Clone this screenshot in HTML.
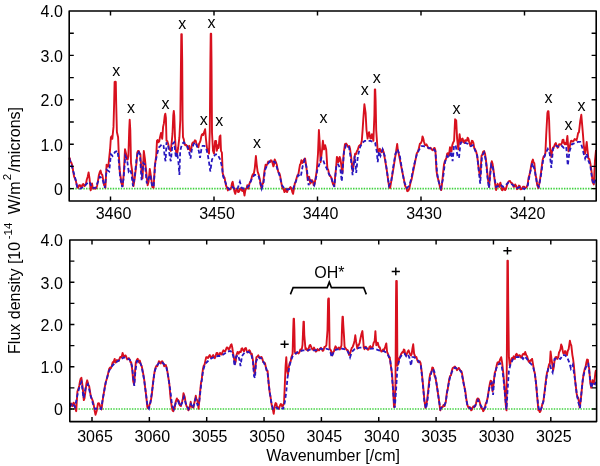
<!DOCTYPE html><html><head><meta charset="utf-8"><style>html,body{margin:0;padding:0;background:#fff;}svg{display:block;will-change:transform;}text{font-family:"Liberation Sans",sans-serif;font-size:16px;fill:#000;}</style></head><body>
<svg width="600" height="466" viewBox="0 0 600 466">
<rect width="600" height="466" fill="#fff"/>
<line x1="70" y1="188.6" x2="596" y2="188.6" stroke="#3fd23f" stroke-width="1.6" stroke-dasharray="1.45 1.22"/>
<line x1="70.5" y1="409" x2="596" y2="409" stroke="#3fd23f" stroke-width="1.6" stroke-dasharray="1.45 1.22"/>
<polyline points="69.5,157.5 69.7,158.6 70.6,161.7 71.4,162.9 72.3,165.5 73.2,171.5 74.1,176.6 74.9,178.4 75.8,180.6 76.6,184.4 77.3,187.1 78.0,187.8 79.2,185.2 80.1,185.1 80.9,187.0 81.8,186.8 82.6,184.4 83.4,184.0 84.3,186.1 85.2,185.5 86.0,183.5 86.8,179.5 87.7,176.7 88.6,172.4 89.5,178.4 90.7,190.4 92.0,183.5 92.7,187.4 93.4,188.7 94.5,187.7 95.5,188.7 96.3,188.2 97.2,185.2 98.1,180.1 98.9,174.9 99.8,171.9 100.6,170.6 101.4,174.0 102.3,174.9 103.2,180.1 104.0,185.2 104.7,185.3 105.4,187.8 106.6,164.6 107.4,166.6 108.3,166.4 109.2,157.8 110.1,149.2 110.9,137.2 111.6,136.2 112.3,138.9 113.5,126.9 114.1,104.6 114.6,82.0 115.0,81.7 115.5,81.7 115.8,82.0 116.2,104.0 116.6,120.0 116.9,132.0 118.1,137.2 118.8,154.3 119.8,171.5 120.7,177.5 121.5,183.5 122.7,186.1 123.9,171.5 125.0,149.2 126.2,154.3 127.0,159.5 127.7,159.6 128.4,156.0 129.2,130.0 129.7,119.7 130.3,130.0 131.0,163.0 132.2,171.5 132.8,178.8 133.5,186.1 134.7,178.4 135.6,170.7 136.5,162.9 137.3,152.6 138.0,150.9 138.7,150.9 139.6,153.4 140.4,154.3 141.6,173.2 142.5,178.4 143.2,164.7 143.8,150.9 145.0,159.5 146.2,171.5 146.9,178.3 147.6,185.2 148.6,181.8 149.8,168.9 151.0,176.7 151.7,181.8 152.4,187.0 153.6,187.8 154.8,166.4 155.5,161.2 156.2,156.0 157.0,140.6 157.7,140.0 158.3,142.3 159.2,141.6 160.0,137.2 161.0,132.9 162.2,138.9 163.1,126.9 163.9,123.4 164.7,116.0 165.3,113.7 165.9,118.0 166.5,140.6 167.3,141.1 168.2,144.0 168.9,147.6 169.6,149.2 170.8,150.9 171.7,142.3 172.5,133.7 173.3,115.0 173.8,110.9 174.3,116.0 175.0,137.2 175.9,150.9 177.1,154.3 178.2,147.5 179.4,137.2 180.3,120.0 181.0,60.0 181.3,34.1 181.8,34.1 182.2,60.0 182.6,120.0 183.0,137.2 183.8,139.3 184.5,144.0 185.3,145.3 186.2,144.9 187.1,146.0 188.0,149.2 189.2,145.8 189.8,149.6 190.5,150.9 191.4,148.0 192.1,143.8 192.8,142.4 193.9,142.4 194.9,140.3 195.6,140.6 196.3,143.1 197.4,146.2 198.4,147.3 199.1,143.5 199.8,142.4 200.5,140.7 201.2,136.8 201.9,134.6 202.6,134.1 203.2,135.1 203.9,132.7 205.1,129.2 206.0,139.6 207.0,148.0 208.1,150.8 209.0,153.6 209.8,131.3 210.4,60.0 210.7,33.8 211.2,33.8 211.5,60.0 212.0,132.7 213.0,150.8 214.0,153.6 215.1,141.0 216.1,141.0 216.8,150.8 217.9,145.2 218.6,148.0 219.6,136.8 220.4,135.4 221.0,150.8 221.9,152.6 222.7,173.2 223.9,176.7 224.6,177.8 225.3,181.8 226.0,185.5 226.7,187.0 227.9,190.4 228.8,188.8 229.6,188.7 230.4,189.3 231.3,187.0 232.0,183.1 232.7,181.8 233.9,188.7 234.6,192.0 235.3,193.8 236.5,188.7 237.3,189.5 238.2,192.1 239.1,191.6 239.9,188.7 240.8,188.4 241.6,190.4 242.4,190.9 243.3,188.7 244.5,195.5 245.2,191.1 245.9,188.7 246.6,188.2 247.3,185.2 248.5,188.7 249.3,184.1 250.2,181.8 251.1,180.4 251.9,176.7 252.8,174.3 253.6,174.9 254.8,168.1 255.9,156.0 256.7,164.6 257.6,171.5 258.8,174.9 260.0,180.1 260.7,185.3 261.4,187.8 262.2,184.3 263.1,183.5 264.4,171.5 265.6,164.6 266.5,165.6 267.4,163.8 268.2,161.5 269.1,162.1 270.0,162.0 270.8,160.3 271.6,160.5 272.5,162.9 273.4,166.4 274.0,164.6 274.7,159.5 275.9,162.1 276.8,164.7 277.7,169.8 278.5,172.5 279.4,173.2 280.2,176.1 281.1,181.8 282.0,186.4 282.8,188.7 283.6,189.2 284.5,192.1 285.7,188.7 286.4,191.3 287.1,192.1 288.0,189.4 288.8,188.7 289.6,188.9 290.5,187.0 291.4,188.3 292.3,192.1 293.1,193.8 294.0,188.7 294.8,183.5 295.6,182.0 296.5,178.4 297.4,175.4 298.3,174.9 299.1,169.8 300.0,164.6 300.7,163.8 301.4,160.3 302.6,162.9 303.9,159.5 305.1,158.6 306.3,166.4 307.0,173.2 307.7,180.1 308.4,177.6 309.1,176.7 310.3,183.5 311.1,182.4 312.0,180.1 312.9,181.5 313.7,185.2 314.4,184.8 315.0,181.5 315.9,176.2 316.7,170.8 317.4,162.2 318.0,153.6 318.9,130.0 319.7,142.9 320.6,162.2 321.9,151.5 322.9,140.8 324.0,149.4 325.1,145.1 326.2,149.4 327.4,168.7 328.1,169.4 328.9,173.0 329.7,175.8 330.5,176.2 331.4,177.9 332.2,181.5 333.2,184.7 334.3,185.8 335.1,177.2 336.0,168.7 336.9,156.9 337.5,157.7 338.2,162.2 338.9,161.2 339.7,156.9 340.4,159.2 341.2,164.4 341.9,170.5 342.5,173.0 343.5,155.8 344.2,149.9 345.0,144.0 346.1,143.5 347.2,145.1 348.2,147.0 349.3,146.1 350.1,149.1 351.0,155.8 351.8,163.3 352.6,170.8 353.6,164.4 354.4,159.0 355.1,153.6 356.0,154.0 356.8,151.5 357.9,149.4 359.0,145.9 360.1,145.1 361.0,144.1 361.8,140.8 362.6,130.1 363.3,119.3 364.4,104.3 365.6,112.9 366.5,130.0 367.6,138.6 368.4,134.0 369.1,132.2 370.4,138.6 371.1,138.3 371.9,134.3 372.6,136.7 373.4,140.8 374.4,115.0 374.8,89.4 375.2,89.4 375.6,100.0 376.2,130.0 376.8,138.6 377.7,151.5 378.4,152.1 379.0,149.4 379.8,148.7 380.5,151.5 381.6,152.2 382.6,149.4 383.6,152.0 384.7,157.9 385.8,164.4 386.9,170.8 387.9,178.3 389.0,185.8 390.1,188.0 391.2,181.6 392.3,175.1 393.4,168.6 394.4,162.2 395.2,156.8 396.1,151.5 397.2,144.0 397.9,150.5 398.7,153.6 399.8,159.0 400.8,164.4 401.9,169.8 403.0,175.1 404.1,180.4 405.1,185.8 406.2,187.5 407.3,191.2 408.4,190.7 409.4,188.0 410.5,182.7 411.6,179.4 412.6,174.1 413.7,168.7 414.8,163.3 415.9,157.9 416.7,153.6 417.8,151.8 418.9,148.3 419.9,143.8 421.0,142.9 421.8,141.1 422.5,136.5 423.2,138.1 424.0,141.8 424.9,144.8 425.7,145.1 426.5,144.3 427.4,146.1 428.5,148.4 429.6,148.3 430.6,147.7 431.7,149.4 432.8,150.3 433.9,148.3 434.6,147.9 435.4,150.4 436.5,170.8 437.4,176.6 438.2,179.4 438.9,181.6 439.7,185.8 440.4,188.6 441.2,190.1 441.9,184.8 442.5,179.4 443.2,171.9 444.0,164.4 444.8,161.2 445.5,160.1 446.4,157.8 447.2,153.6 448.0,153.2 448.9,155.8 450.0,147.2 450.8,151.1 451.5,151.5 452.2,145.5 453.0,142.9 454.1,140.8 455.1,119.3 456.2,120.4 457.1,138.6 458.3,149.4 459.0,141.9 459.6,134.3 460.4,140.3 461.1,142.9 461.9,139.0 462.6,138.6 463.5,141.8 464.4,142.9 465.2,140.1 466.1,140.8 466.9,140.8 467.6,137.6 468.4,138.8 469.1,141.8 470.4,146.1 471.1,144.3 471.9,140.8 472.6,141.0 473.4,142.9 474.2,147.8 475.1,149.4 476.1,151.5 477.2,155.8 478.1,163.3 479.0,170.8 480.2,177.3 480.9,166.6 481.5,155.8 482.4,154.6 483.2,151.5 484.1,151.1 485.0,153.6 485.8,159.0 486.5,164.4 487.2,171.9 488.0,179.4 489.0,186.9 489.8,177.8 490.5,168.7 491.1,166.1 491.8,161.2 492.6,164.1 493.3,168.7 494.1,175.1 494.8,181.5 495.5,186.5 496.1,190.1 496.9,185.9 497.6,183.7 498.4,186.0 499.1,186.9 500.4,182.6 501.1,185.5 501.9,190.1 502.6,190.2 503.4,188.0 504.2,188.1 505.1,190.1 506.0,188.8 506.8,185.8 507.9,182.5 509.0,181.1 510.0,180.9 510.9,182.7 511.9,183.2 512.7,184.1 513.5,186.8 514.4,186.6 515.2,184.4 516.2,186.0 517.1,189.2 518.0,188.1 519.0,185.6 519.8,186.0 520.6,189.2 521.8,189.0 523.0,186.8 524.1,186.6 525.3,188.0 526.5,187.3 527.7,184.4 528.5,178.0 529.4,175.0 530.3,171.1 531.2,165.5 532.0,161.7 532.9,159.6 533.6,162.4 534.3,163.2 535.5,175.0 536.3,178.1 537.1,184.4 538.3,188.0 539.1,184.6 540.0,179.7 541.0,172.6 541.9,165.5 542.8,159.2 543.8,156.1 544.6,156.1 545.4,153.0 546.2,135.0 547.4,113.0 547.9,111.2 548.5,111.2 549.1,120.0 549.5,132.0 550.2,150.0 551.3,157.0 552.1,150.8 553.0,147.5 554.0,146.9 554.9,144.3 555.8,143.0 556.7,145.5 557.5,147.8 558.4,146.7 559.2,144.1 560.0,144.3 561.0,144.7 561.9,143.1 562.6,139.8 563.4,139.6 564.1,143.2 564.8,144.3 565.5,142.9 566.2,144.3 567.4,136.0 568.5,151.4 569.4,149.0 570.2,144.3 571.0,141.0 571.9,140.8 572.8,141.7 573.7,140.8 574.7,139.1 575.6,139.6 576.5,140.3 577.3,137.2 578.1,133.1 578.9,132.5 579.6,126.6 580.3,120.7 581.3,114.8 582.2,125.4 583.0,134.9 583.7,144.3 584.4,150.1 585.1,153.7 585.9,147.8 586.7,141.9 587.5,150.2 588.4,158.5 589.3,159.1 590.3,163.2 591.4,170.3 592.6,182.1 593.8,184.4 595.0,160.0 596.0,150.0" fill="none" stroke="#d8101e" stroke-width="1.9" stroke-linejoin="round"/>
<polyline points="69.5,158.5 69.7,159.5 72.3,168.0 74.9,176.7 77.4,187.8 80.0,188.7 83.5,187.0 86.9,183.5 89.5,181.8 92.0,187.8 95.5,187.8 98.0,181.8 99.8,176.7 102.3,178.4 104.9,187.8 106.6,169.8 109.2,171.5 110.9,154.3 112.6,156.0 115.2,151.8 117.6,150.9 118.8,161.2 120.2,178.4 122.2,187.0 123.6,178.4 125.3,156.0 127.0,159.5 128.7,171.5 130.1,169.8 131.3,173.2 133.0,186.1 134.7,176.7 136.5,159.5 138.2,150.9 139.9,154.3 141.6,180.1 143.3,162.9 145.0,164.6 146.8,183.5 148.5,178.4 150.2,174.9 151.9,185.2 153.6,187.0 155.3,162.9 157.1,154.3 158.8,147.5 160.5,145.8 162.2,144.0 163.6,145.8 164.8,157.8 165.6,161.2 166.5,142.3 168.2,145.8 170.0,157.8 170.8,161.2 172.5,144.0 174.2,142.3 175.9,157.8 177.1,152.6 178.5,162.9 179.4,174.9 180.2,150.9 182.0,144.0 183.7,142.3 185.4,144.0 187.1,145.8 188.8,150.0 190.5,158.6 191.9,149.2 193.6,144.0 195.3,142.3 197.1,146.6 198.8,150.9 200.0,157.8 201.4,149.2 202.6,145.8 204.3,145.8 206.0,147.5 207.7,154.3 209.1,162.9 210.3,171.5 212.0,159.5 213.7,156.9 215.4,154.3 217.6,154.3 220.2,159.5 221.9,166.4 223.2,176.7 225.3,181.8 227.0,187.0 229.6,189.5 232.2,187.0 234.7,188.7 237.3,189.5 239.9,181.8 241.6,187.8 244.2,188.7 246.8,187.8 249.3,185.2 251.9,178.4 254.5,174.9 257.1,174.9 258.8,176.7 260.5,183.5 261.7,188.7 263.4,183.5 265.1,169.8 267.4,164.6 269.9,161.2 272.5,161.2 275.1,162.1 277.7,169.8 279.9,176.7 282.0,185.2 284.5,188.7 288.0,189.5 290.5,188.7 293.1,188.7 295.7,181.8 298.3,174.9 300.8,176.7 302.6,166.4 304.6,160.3 306.8,168.1 308.6,185.2 310.3,180.1 312.0,181.8 314.2,185.2 316.3,176.7 317.1,170.8 319.3,164.4 321.4,157.9 323.2,160.1 324.7,164.4 326.8,168.7 328.9,174.0 331.1,177.3 334.3,186.9 336.5,164.4 338.2,164.4 340.3,168.7 341.8,181.5 344.0,151.5 346.1,145.1 348.9,146.1 351.0,160.1 352.6,175.1 354.7,155.8 356.2,173.0 357.9,155.8 360.1,147.2 362.2,142.9 364.8,140.8 367.6,140.8 370.4,140.8 372.9,141.8 375.1,142.9 376.8,151.5 377.7,162.2 379.0,151.5 380.5,155.8 382.6,149.4 384.7,155.8 386.9,170.8 389.0,185.8 391.2,181.5 393.3,166.5 395.5,153.6 397.6,149.4 399.8,155.8 401.9,168.7 404.1,181.5 406.8,188.0 409.4,185.8 411.6,177.3 413.7,166.5 415.9,157.9 417.1,153.6 419.3,149.4 421.4,146.1 423.6,146.1 426.8,147.2 430.0,148.3 433.2,148.3 435.4,151.5 437.1,173.0 438.6,181.5 440.8,188.0 442.9,179.4 445.0,162.2 447.2,155.8 449.3,157.9 451.1,151.5 452.6,161.2 454.1,145.1 455.8,146.1 457.5,155.8 459.0,157.9 460.5,142.9 462.6,141.8 465.4,142.9 468.2,144.0 470.8,146.1 472.9,145.1 475.1,150.4 477.2,155.8 479.0,173.0 480.2,183.7 482.0,155.8 484.1,152.6 485.8,160.1 487.5,177.3 489.0,188.0 491.2,164.4 492.7,166.5 494.4,177.3 496.1,186.9 498.7,185.8 500.8,184.8 503.0,186.9 505.1,185.8 508.3,182.6 511.1,183.7 513.5,185.6 517.1,188.0 520.6,186.8 524.2,189.2 527.7,185.6 530.1,172.6 532.4,163.2 534.8,170.3 537.1,184.4 538.8,186.8 540.7,177.3 543.0,160.8 545.4,153.7 547.8,149.0 549.7,153.7 551.3,167.9 553.0,149.0 555.3,145.5 558.4,146.7 561.5,145.5 563.8,147.8 566.2,146.7 567.8,165.5 569.5,151.4 571.9,144.3 574.9,143.1 578.0,141.9 580.3,141.9 582.0,146.7 583.7,153.7 585.1,158.5 586.7,153.7 588.4,160.8 590.3,165.5 592.2,179.7 593.8,184.4 595.0,180.9 596.0,178.0" fill="none" stroke="#2818c0" stroke-width="1.8" stroke-dasharray="4 2.5"/>
<polyline points="69.7,405.2 70.4,405.8 71.1,403.5 72.3,406.1 73.5,402.7 74.2,403.5 74.9,407.0 76.2,411.2 77.4,391.5 78.6,388.1 79.3,385.5 80.0,381.2 80.7,378.6 81.4,377.8 82.6,386.4 83.8,400.1 84.5,398.4 85.2,393.2 86.5,382.9 87.2,380.3 88.3,384.6 89.2,386.4 90.0,391.5 90.8,396.5 91.7,398.4 92.8,400.9 93.8,405.2 94.7,411.1 95.5,414.7 96.8,410.4 98.0,403.5 98.9,403.2 99.8,405.2 100.7,408.4 101.5,409.5 102.3,403.1 103.2,396.7 104.1,391.5 104.9,386.4 105.8,382.0 106.6,379.5 107.4,377.3 108.3,372.6 109.2,368.8 110.1,367.5 110.9,368.3 111.8,365.8 112.7,362.1 113.5,362.3 114.7,358.9 115.4,362.5 116.1,362.3 116.9,360.0 117.8,360.6 118.7,361.0 119.5,358.9 120.3,356.9 121.2,357.2 121.9,355.9 122.6,352.9 123.8,357.2 125.0,355.5 125.7,355.5 126.4,357.2 127.2,359.4 128.1,358.9 128.9,358.1 129.8,359.7 130.5,362.2 131.2,362.3 132.4,370.9 133.2,381.2 134.1,384.6 135.0,372.6 135.8,362.3 137.0,359.7 137.7,358.8 138.4,361.5 139.1,362.4 139.8,360.6 141.0,364.9 141.8,366.5 142.7,370.9 143.6,376.0 144.4,381.2 145.2,388.0 146.1,394.9 147.3,407.0 148.0,408.2 148.7,407.8 149.4,405.0 150.1,403.5 150.9,400.4 151.8,394.9 153.0,382.9 153.8,376.9 154.7,370.9 155.6,367.4 156.4,365.8 157.2,366.3 158.1,364.0 158.9,361.2 159.8,362.3 160.7,363.5 161.6,361.5 162.4,361.3 163.3,363.2 164.2,366.3 165.0,365.8 165.8,365.0 166.7,367.5 167.6,372.6 168.4,377.8 169.4,384.6 170.6,398.4 171.8,407.0 172.5,410.3 173.2,411.2 173.8,408.6 174.5,408.7 175.7,401.8 176.9,398.4 177.6,400.9 178.3,400.1 179.0,401.4 179.7,405.2 180.9,406.1 182.1,401.8 182.8,398.7 183.5,393.2 184.7,396.7 185.7,403.5 186.9,407.0 187.6,407.3 188.3,410.4 189.5,408.7 190.7,401.8 191.3,405.8 192.0,407.0 192.7,406.7 193.4,407.8 194.6,401.8 195.8,395.8 196.5,399.6 197.2,400.1 197.9,403.2 198.6,408.7 199.8,394.9 201.0,382.9 201.7,379.9 202.3,374.3 203.0,368.7 203.7,365.8 204.6,364.5 205.4,360.6 206.2,357.1 207.1,357.2 208.0,358.1 208.9,356.3 209.8,355.0 210.6,357.2 211.4,357.9 212.3,356.3 213.2,355.0 214.0,357.2 214.8,358.2 215.7,355.5 216.6,352.9 217.4,352.9 218.3,355.6 219.2,355.5 220.1,352.8 220.9,353.7 221.8,354.5 222.6,352.0 223.4,350.3 224.3,351.2 225.2,351.3 226.0,349.4 226.8,347.4 227.7,347.7 228.6,349.7 229.5,348.6 230.7,345.2 231.5,344.3 232.2,347.2 232.9,352.0 234.1,358.9 235.0,364.0 235.7,361.6 236.3,355.5 237.5,352.0 238.7,353.7 239.4,351.7 240.1,352.0 240.8,352.1 241.5,348.6 242.3,348.3 243.2,350.3 244.1,351.3 244.9,348.6 245.8,347.9 246.6,350.3 247.4,352.5 248.3,352.0 249.2,350.2 250.1,351.2 250.9,354.0 251.8,353.7 253.0,360.6 253.8,369.2 254.7,374.3 255.6,365.8 256.4,357.2 257.6,356.3 258.3,355.3 259.0,357.2 259.9,358.3 260.7,357.2 261.5,357.0 262.4,358.9 263.2,362.0 264.1,362.3 265.0,363.1 265.9,367.5 266.8,370.7 267.6,370.9 268.6,382.9 269.8,393.2 270.5,396.6 271.2,401.8 271.9,406.1 272.5,407.8 273.7,413.8 274.9,405.2 275.6,403.1 276.3,403.5 277.0,406.6 277.7,407.0 278.9,408.7 280.1,405.2 280.8,404.0 281.5,404.4 282.1,406.5 282.8,406.1 284.0,403.5 284.9,382.9 285.6,365.8 286.3,357.2 286.9,369.2 288.0,374.3 288.7,367.5 289.4,364.0 290.0,362.3 290.7,361.3 291.4,357.2 292.6,353.7 293.2,330.0 293.6,318.8 294.0,318.8 294.4,330.0 294.8,352.0 296.0,353.7 296.9,352.2 297.8,352.9 298.6,353.5 299.5,352.0 300.4,349.4 301.2,350.3 301.9,348.6 302.5,345.0 303.1,330.0 303.5,321.6 303.9,321.6 304.3,335.0 305.5,349.4 306.4,348.5 307.2,350.3 308.0,350.8 308.9,347.7 309.6,345.3 310.4,345.0 311.5,347.7 312.4,349.6 313.2,349.4 314.0,347.6 314.9,349.4 315.8,351.6 316.6,351.2 317.5,349.1 318.4,350.3 319.2,350.3 320.1,348.6 321.0,347.8 321.8,349.4 322.6,350.8 323.5,350.3 324.4,347.0 325.2,346.9 326.4,345.2 327.5,330.0 328.1,300.0 328.4,298.5 328.9,298.5 329.1,310.0 329.6,348.6 330.9,350.3 332.1,355.5 333.3,352.0 334.0,351.2 334.7,348.6 335.5,346.3 336.4,347.7 337.2,349.0 338.1,348.6 339.0,347.4 339.8,349.4 340.6,348.1 341.5,345.2 342.1,325.0 342.5,316.8 342.9,316.8 343.3,325.0 344.0,335.9 344.6,346.9 345.8,348.6 347.0,350.3 347.7,350.1 348.4,352.0 349.1,355.0 349.8,354.6 351.0,350.3 351.9,347.6 352.7,346.9 353.9,343.4 354.6,340.4 355.3,335.3 356.1,341.7 357.3,348.6 358.0,345.3 358.7,345.2 359.6,342.8 360.6,338.0 361.5,333.7 362.4,331.1 363.2,340.0 363.8,347.7 364.5,349.2 365.2,346.9 366.0,346.8 366.9,348.6 367.8,349.8 368.7,349.4 369.4,346.9 370.3,346.1 371.2,347.7 372.0,348.3 372.9,346.0 373.8,342.2 374.6,341.7 375.4,331.1 376.3,345.2 377.0,344.8 377.7,342.6 378.9,346.9 379.8,347.4 380.6,350.3 381.5,351.6 382.3,351.2 383.1,349.4 384.0,350.3 385.2,346.9 386.3,343.4 387.1,352.0 388.3,354.6 389.0,357.6 389.7,357.2 390.9,365.8 392.1,374.3 393.1,389.8 394.0,407.0 394.8,405.2 395.5,382.9 396.0,300.0 396.2,280.9 396.8,280.9 397.0,300.0 397.4,365.8 398.6,362.3 399.3,358.1 400.0,357.2 401.2,353.7 402.4,352.0 403.1,352.5 403.8,349.4 404.5,349.9 405.1,353.7 406.3,355.5 407.5,352.0 408.6,350.3 409.8,353.7 411.0,355.5 411.7,353.8 412.4,348.6 413.2,344.3 414.1,353.7 415.4,357.2 416.3,356.9 417.2,359.7 418.0,361.9 418.9,361.5 419.8,361.3 420.6,363.2 421.8,372.6 423.0,384.6 423.7,392.4 424.4,400.1 425.4,407.8 426.1,406.0 426.9,401.8 428.1,391.5 428.8,384.6 429.5,377.8 430.2,374.0 430.9,372.6 431.6,371.0 432.3,367.5 433.1,367.9 433.8,370.9 434.6,376.1 435.5,377.8 436.4,383.0 437.2,388.1 438.1,394.1 439.0,400.1 439.6,405.2 440.3,410.4 441.1,408.0 441.9,407.0 442.6,407.2 443.3,405.2 444.0,404.7 444.6,406.1 445.8,401.8 447.0,391.5 447.7,389.4 448.4,384.6 449.2,379.3 450.1,376.0 451.0,375.3 451.8,370.9 452.7,368.1 453.6,367.5 454.9,366.6 456.1,368.3 457.0,370.2 457.8,369.2 458.7,367.9 459.6,369.2 460.5,370.9 461.3,370.9 462.1,373.8 463.0,379.5 463.9,384.8 464.7,388.1 465.4,391.5 466.0,396.7 466.7,401.6 467.4,405.2 468.6,407.8 469.8,407.0 470.5,408.0 471.2,410.4 471.9,409.8 472.5,407.8 473.4,406.3 474.2,407.0 475.1,406.3 476.0,403.5 476.9,399.5 477.7,398.4 478.9,399.2 480.1,403.5 481.0,407.5 481.8,408.7 482.5,408.5 483.2,411.2 484.0,409.9 484.9,407.0 485.8,403.4 486.6,401.8 487.5,398.6 488.3,393.2 489.1,388.0 490.0,382.9 490.7,380.6 491.4,381.2 492.6,391.5 493.5,384.6 494.1,378.6 494.8,372.6 495.7,370.7 496.6,365.8 497.5,362.4 498.3,362.3 499.1,362.6 500.0,359.7 501.2,357.2 502.1,362.3 503.4,374.3 504.6,388.1 505.8,405.2 506.5,410.4 507.2,300.0 507.4,260.8 507.9,260.8 508.2,300.0 508.9,357.2 509.8,365.8 511.0,360.6 511.7,358.2 512.4,358.0 513.0,358.4 513.7,356.3 514.9,358.9 515.8,354.9 516.6,353.7 517.5,355.8 518.4,356.3 519.2,355.1 520.1,355.5 521.0,357.6 521.8,357.2 522.6,354.5 523.5,353.7 524.4,354.5 525.2,352.0 526.4,355.5 527.1,356.1 527.8,358.9 528.6,361.5 529.5,362.3 530.2,360.4 530.9,360.6 532.1,358.9 533.3,365.8 534.0,370.3 534.7,372.6 536.0,382.9 537.2,396.7 538.4,410.4 539.1,410.5 539.8,412.1 540.6,411.0 541.5,407.8 542.4,403.8 543.3,401.8 544.0,396.6 544.6,391.5 545.8,381.2 547.0,372.6 547.7,371.2 548.4,367.5 549.1,364.2 549.8,364.0 550.6,351.5 551.5,358.9 552.4,365.0 553.1,370.6 553.8,366.8 554.5,360.9 555.5,357.1 556.4,357.0 557.3,358.9 558.3,357.0 559.0,352.5 559.7,351.2 560.5,349.1 561.2,344.5 562.0,346.5 562.8,351.2 563.5,353.7 564.1,353.2 564.8,351.3 565.5,351.2 566.2,354.4 567.0,355.1 567.8,350.8 568.6,349.3 569.9,340.6 570.6,344.0 571.3,345.4 572.4,355.1 573.1,359.0 573.8,364.8 574.5,372.5 575.1,380.2 575.9,386.9 576.7,393.7 577.5,397.3 578.2,397.6 578.9,401.5 579.6,407.2 580.6,401.5 581.4,393.8 582.1,386.0 582.8,380.2 583.5,374.4 584.8,368.6 585.5,367.1 586.3,362.8 587.1,359.5 587.9,359.9 588.5,365.7 589.2,368.6 590.2,382.1 591.2,387.9 592.5,380.2 593.3,381.0 594.1,384.1 595.4,372.5 596.0,370.0" fill="none" stroke="#d8101e" stroke-width="1.9" stroke-linejoin="round"/>
<polyline points="69.7,407.0 72.0,403.0 75.0,407.0 77.4,395.0 80.0,384.6 81.5,382.0 83.5,398.0 86.0,386.0 88.0,384.0 90.0,393.0 93.0,404.0 95.0,409.0 98.0,408.0 101.0,409.0 103.5,395.0 106.0,381.0 109.0,371.0 112.0,366.0 115.0,363.0 118.0,361.0 121.0,359.0 124.0,357.5 127.0,358.0 130.0,360.0 132.0,366.0 133.5,380.0 134.3,386.0 135.5,370.0 137.0,361.0 139.5,361.0 141.5,366.0 144.0,379.0 146.0,394.0 147.5,406.0 149.0,408.5 150.5,402.0 152.5,388.0 154.5,372.0 156.5,366.0 159.0,363.0 161.5,362.0 164.0,364.0 166.5,368.0 168.5,378.0 170.5,392.0 172.0,405.0 174.0,409.0 176.0,402.0 178.0,401.0 180.0,406.0 182.0,403.0 184.0,397.0 186.0,404.0 188.5,409.0 191.0,404.0 193.0,408.0 195.5,399.0 197.5,405.0 199.0,404.0 201.0,386.0 203.0,371.0 205.0,364.0 207.0,362.0 209.0,360.0 212.0,358.0 215.0,357.0 218.0,356.0 221.0,356.0 224.0,354.0 227.0,352.0 230.0,351.0 232.0,352.0 233.5,357.0 234.5,366.0 236.0,357.0 238.0,355.0 239.5,360.0 240.5,366.0 242.0,356.0 245.0,352.0 248.0,352.0 251.0,353.0 253.0,362.0 254.0,376.0 255.0,378.0 256.0,362.0 258.0,357.0 261.0,358.0 264.0,363.0 266.0,367.5 267.7,374.3 269.4,389.8 271.2,401.8 272.9,408.7 275.4,407.0 278.0,408.7 280.6,407.8 283.2,408.7 284.9,401.8 286.3,391.5 287.5,377.8 289.2,367.5 290.9,360.6 292.6,356.3 295.2,353.7 297.8,352.0 300.3,351.2 302.9,350.3 305.5,350.3 308.1,350.3 310.6,349.4 313.2,350.3 315.8,350.3 318.4,349.4 320.9,348.6 323.5,349.4 326.1,348.6 328.7,349.4 330.4,352.0 331.6,357.2 333.0,353.7 334.7,350.3 337.2,349.4 339.8,349.4 342.4,348.6 345.0,349.4 347.5,351.2 349.3,354.6 350.1,357.2 351.8,352.0 354.4,349.4 357.0,348.6 359.6,347.7 362.1,347.7 364.7,347.7 367.3,348.6 368.6,349.4 371.2,348.6 373.7,348.6 376.3,349.4 378.9,350.3 381.5,351.2 384.0,351.2 386.6,352.9 388.3,355.5 390.0,358.9 391.4,369.2 392.6,384.6 393.8,400.1 394.8,407.8 396.0,391.5 397.2,370.9 398.6,362.3 400.3,357.2 402.0,354.6 404.6,353.7 406.3,356.3 408.1,354.6 409.8,358.9 411.0,365.8 412.4,357.2 414.1,357.2 416.6,358.9 419.2,362.3 420.9,365.8 422.7,382.9 424.4,401.8 426.1,408.7 427.5,400.0 428.8,388.0 430.0,378.0 431.5,372.0 433.0,369.0 434.5,372.0 436.0,380.0 437.5,390.0 439.0,401.0 440.5,409.0 442.0,407.0 444.0,406.0 445.8,402.0 447.0,393.0 448.4,385.0 450.1,377.0 451.8,372.0 453.6,368.5 455.5,367.5 457.8,369.5 459.6,370.0 461.3,372.0 463.0,380.0 464.7,389.0 466.0,398.4 467.7,406.1 470.3,408.7 472.9,408.7 475.4,405.2 478.0,400.1 480.6,405.2 483.2,409.5 485.7,407.0 487.5,398.4 490.0,384.6 491.8,382.9 493.1,394.9 494.3,377.8 496.0,369.2 497.8,364.9 500.0,363.2 501.7,365.8 503.4,377.8 505.1,396.7 506.5,409.5 507.5,391.5 508.9,370.9 510.6,364.0 513.2,358.9 515.8,357.2 518.4,357.2 520.9,356.3 523.0,358.9 524.7,356.3 526.9,358.9 529.2,362.3 531.2,364.0 533.3,367.5 535.0,374.3 536.7,389.8 538.1,405.2 539.5,411.2 541.2,408.7 543.3,401.8 545.0,389.8 546.7,376.0 548.4,367.5 550.1,365.8 551.8,370.9 552.6,372.5 554.5,359.0 557.4,358.0 560.3,359.0 562.8,355.1 565.1,355.1 567.4,358.0 569.4,362.8 570.9,368.6 572.8,364.8 574.8,378.3 576.7,393.7 578.6,403.4 580.0,408.2 581.5,391.8 582.9,378.3 584.8,370.6 586.7,364.8 588.3,363.8 589.8,376.3 591.2,387.9 593.1,382.1 595.0,384.1 596.0,382.0" fill="none" stroke="#2818c0" stroke-width="1.8" stroke-dasharray="4 2.5"/>
<rect x="69.2" y="11" width="527.0" height="190.0" fill="none" stroke="#000" stroke-width="1.6" stroke-linejoin="round"/>
<path d="M69.2,188.60h4.6M596.2,188.60h-4.6M69.2,166.40h4.6M596.2,166.40h-4.6M69.2,144.20h4.6M596.2,144.20h-4.6M69.2,122.00h4.6M596.2,122.00h-4.6M69.2,99.80h4.6M596.2,99.80h-4.6M69.2,77.60h4.6M596.2,77.60h-4.6M69.2,55.40h4.6M596.2,55.40h-4.6M69.2,33.20h4.6M596.2,33.20h-4.6M110.50,201.0v-4.6M110.50,11v4.6M214.00,201.0v-4.6M214.00,11v4.6M317.50,201.0v-4.6M317.50,11v4.6M421.00,201.0v-4.6M421.00,11v4.6M524.50,201.0v-4.6M524.50,11v4.6" stroke="#000" stroke-width="1.4400000000000002" fill="none"/>
<text x="113.50" y="219.2" text-anchor="middle">3460</text>
<text x="217.00" y="219.2" text-anchor="middle">3450</text>
<text x="320.50" y="219.2" text-anchor="middle">3440</text>
<text x="424.00" y="219.2" text-anchor="middle">3430</text>
<text x="527.50" y="219.2" text-anchor="middle">3420</text>
<text x="62.8" y="17.30" text-anchor="end">4.0</text>
<text x="62.8" y="61.70" text-anchor="end">3.0</text>
<text x="62.8" y="106.10" text-anchor="end">2.0</text>
<text x="62.8" y="150.50" text-anchor="end">1.0</text>
<text x="62.8" y="194.90" text-anchor="end">0</text>
<rect x="69.8" y="240" width="526.8000000000001" height="181.60000000000002" fill="none" stroke="#000" stroke-width="1.6" stroke-linejoin="round"/>
<path d="M69.8,409.00h4.6M596.6,409.00h-4.6M69.8,387.88h4.6M596.6,387.88h-4.6M69.8,366.75h4.6M596.6,366.75h-4.6M69.8,345.62h4.6M596.6,345.62h-4.6M69.8,324.50h4.6M596.6,324.50h-4.6M69.8,303.38h4.6M596.6,303.38h-4.6M69.8,282.25h4.6M596.6,282.25h-4.6M69.8,261.12h4.6M596.6,261.12h-4.6M92.00,421.6v-4.6M92.00,240v4.6M149.35,421.6v-4.6M149.35,240v4.6M206.70,421.6v-4.6M206.70,240v4.6M264.05,421.6v-4.6M264.05,240v4.6M321.40,421.6v-4.6M321.40,240v4.6M378.75,421.6v-4.6M378.75,240v4.6M436.10,421.6v-4.6M436.10,240v4.6M493.45,421.6v-4.6M493.45,240v4.6M550.80,421.6v-4.6M550.80,240v4.6" stroke="#000" stroke-width="1.4400000000000002" fill="none"/>
<text x="95.00" y="441.8" text-anchor="middle">3065</text>
<text x="152.35" y="441.8" text-anchor="middle">3060</text>
<text x="209.70" y="441.8" text-anchor="middle">3055</text>
<text x="267.05" y="441.8" text-anchor="middle">3050</text>
<text x="324.40" y="441.8" text-anchor="middle">3045</text>
<text x="381.75" y="441.8" text-anchor="middle">3040</text>
<text x="439.10" y="441.8" text-anchor="middle">3035</text>
<text x="496.45" y="441.8" text-anchor="middle">3030</text>
<text x="553.80" y="441.8" text-anchor="middle">3025</text>
<text x="62.8" y="246.30" text-anchor="end">4.0</text>
<text x="62.8" y="288.55" text-anchor="end">3.0</text>
<text x="62.8" y="330.80" text-anchor="end">2.0</text>
<text x="62.8" y="373.05" text-anchor="end">1.0</text>
<text x="62.8" y="415.30" text-anchor="end">0</text>
<text x="116.2" y="75.6" text-anchor="middle">x</text>
<text x="131.1" y="113.0" text-anchor="middle">x</text>
<text x="165.4" y="109.2" text-anchor="middle">x</text>
<text x="182.2" y="28.5" text-anchor="middle">x</text>
<text x="203.7" y="124.7" text-anchor="middle">x</text>
<text x="211.6" y="28.0" text-anchor="middle">x</text>
<text x="219.3" y="126.4" text-anchor="middle">x</text>
<text x="256.9" y="147.7" text-anchor="middle">x</text>
<text x="323.6" y="123.1" text-anchor="middle">x</text>
<text x="364.8" y="95.3" text-anchor="middle">x</text>
<text x="376.7" y="82.7" text-anchor="middle">x</text>
<text x="456.4" y="113.9" text-anchor="middle">x</text>
<text x="548.5" y="102.9" text-anchor="middle">x</text>
<text x="568.5" y="130.1" text-anchor="middle">x</text>
<text x="581.5" y="111.4" text-anchor="middle">x</text>
<path d="M280.50,344.20h8.2M284.60,340.40v7.6M391.70,271.40h8.2M395.80,267.60v7.6M503.35,250.80h8.2M507.45,247.00v7.6" stroke="#000" stroke-width="1.45" fill="none"/>
<text x="329.4" y="278.3" text-anchor="middle">OH*</text>
<path d="M290.4,294.4 L293.1,287.6 L327.2,287.6 L329.3,282.1 L331.4,287.6 L363.7,287.6 L366.3,294.4" fill="none" stroke="#000" stroke-width="1.6" stroke-linejoin="miter"/>
<text x="333.1" y="461.3" text-anchor="middle">Wavenumber [/cm]</text>
<text transform="translate(19.60,353.90) rotate(-90)" style="font-size:16px">Flux density [10</text>
<text transform="translate(11.80,239.30) rotate(-90)" style="font-size:11.5px">-14</text>
<text transform="translate(19.60,214.30) rotate(-90)" style="font-size:16px">W/m</text>
<text transform="translate(11.40,180.30) rotate(-90)" style="font-size:11.5px">2</text>
<text transform="translate(19.60,171.90) rotate(-90)" style="font-size:16px">/microns]</text>
</svg></body></html>
